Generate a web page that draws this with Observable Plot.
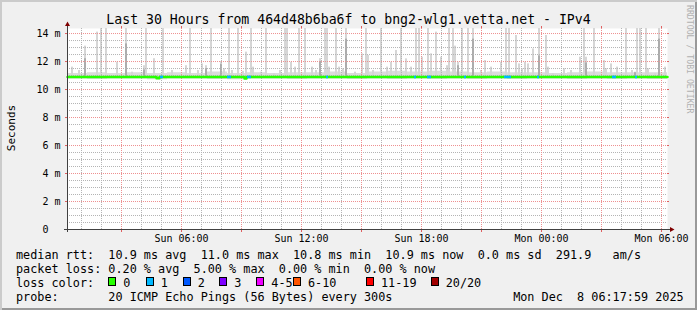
<!DOCTYPE html>
<html>
<head>
<meta charset="utf-8">
<script src="https://cdn.jsdelivr.net/npm/d3@7"></script>
<script src="https://cdn.jsdelivr.net/npm/@observablehq/plot@0.6"></script>
<style>
html, body { margin: 0; padding: 0; background: #f0f0f0; }
#chart { position: relative; width: 697px; height: 310px; background: #f0f0f0;
  box-shadow: inset 2px 2px 0 #cbcbcb, inset -2px -2px 0 #999999; overflow: hidden; }
#chart svg { position: absolute; left: 0; top: 0; }
</style>
</head>
<body>
<div id="chart"></div>
<script>
// ---------------- data ----------------
const title = "Last 30 Hours from 464d48b6ba6f to bng2-wlg1.vetta.net - IPv4";
const yAxisLabel = "Seconds";
const watermark = "RRDTOOL / TOBI OETIKER";
const startTime = "2025-12-07T00:18:00Z";
const endTime = "2025-12-08T06:18:00Z";
const yMax = 14.36;
const yTicks = [0, 2, 4, 6, 8, 10, 12, 14];
const yTickLabels = ["0  ", "2 m", "4 m", "6 m", "8 m", "10 m", "12 m", "14 m"];
const xTickTimes = ["2025-12-07T06:00:00Z", "2025-12-07T12:00:00Z", "2025-12-07T18:00:00Z", "2025-12-08T00:00:00Z", "2025-12-08T06:00:00Z"];
const xTickLabels = ["Sun 06:00", "Sun 12:00", "Sun 18:00", "Mon 00:00", "Mon 06:00"];

// smoke: individual 5-minute steps with outlier pings (hours after start, max ping in ms)
const spikeHour = [0.2, 0.55, 0.85, 1.45, 1.65, 1.9, 2.45, 2.9, 3.2, 3.8, 3.9, 4.3, 4.75, 5.2, 5.9, 6.1, 6.5, 6.7, 6.9, 7.15,
  7.65, 7.8, 8.05, 8.2, 8.5, 8.75, 8.9, 9.15, 9.25, 9.65, 9.9, 10.3, 10.6, 10.85, 10.95, 11.15, 11.35, 11.55, 11.85, 12.2,
  12.4, 12.6, 12.85, 12.95, 13.05, 13.4, 13.55, 13.75, 13.9, 14.35, 14.7, 14.9, 15.0, 15.25, 15.65, 15.95, 16.15, 16.4, 16.65, 16.9,
  17.15, 17.4, 17.55, 17.7, 18.0, 18.15, 18.4, 18.65, 18.95, 19.05, 19.25, 19.35, 19.5, 19.7, 20.0, 20.25, 20.65, 20.85, 21.15, 21.65,
  21.9, 22.05, 22.4, 22.55, 22.7, 22.85, 23.0, 23.25, 23.55, 23.9, 24.0, 24.25, 24.8, 25.15, 25.6, 25.8, 25.9, 26.3, 26.8, 26.9,
  27.15, 27.45, 27.9, 28.2, 28.35, 28.45, 28.6, 28.9, 29.0, 29.35, 29.55, 29.85];
const spikeMax = [11.6, 11.36, 13.1, 14.1, 15, 15, 11.95, 15, 11.24, 11.7, 15, 12.2, 15, 11.36, 11.7, 15, 11.36, 11.83, 11.7, 15,
  12.0, 11.48, 15, 11.36, 15, 11.3, 12.67, 15, 11.6, 11.24, 15, 11.12, 11.36, 15, 15, 11.95, 11.6, 15, 15, 11.6,
  11.36, 12.2, 15, 15, 11.6, 15, 11.6, 11.48, 15, 11.24, 12.55, 15, 12.43, 11.36, 15, 11.6, 11.95, 12.79, 15, 12.19,
  11.6, 15, 15, 12.31, 15, 12.55, 14.1, 12.31, 11.7, 15, 15, 13.1, 11.95, 15, 15, 15, 11.36, 12.07, 11.6, 11.95,
  15, 15, 13.86, 11.83, 11.48, 11.95, 11.83, 12.9, 15, 13.86, 11.6, 11.12, 11.48, 11.36, 12.31, 15, 12.31, 15, 12.07, 11.48,
  11.83, 11.6, 15, 11.36, 11.24, 15, 15, 15, 11.48, 11.12, 15, 11.6];
// darker inner smoke
const darkHour = [0.85, 2.9, 3.8, 6.9, 7.65, 12.6, 13.9, 19.5, 20.25, 23.55, 25.9, 28.35, 29.55];
const darkMax = [12.2, 13.26, 11.4, 11.5, 11.8, 12.0, 13.6, 11.7, 13.6, 12.4, 11.9, 11.2, 13.6];
// background smoke band per hour
const smokeHi = [11.15, 11.2, 11.15, 11.2, 11.15, 11.2, 11.15, 11.25, 11.15, 11.2, 11.15, 11.2, 11.2, 11.25, 11.15,
  11.25, 11.3, 11.25, 11.3, 11.25, 11.2, 11.25, 11.2, 11.2, 11.15, 11.2, 11.25, 11.2, 11.2, 11.2];
const smokeLo = [10.75, 10.72, 10.75, 10.75, 10.7, 10.75, 10.75, 10.72, 10.7, 10.75, 10.75, 10.72, 10.75, 10.75, 10.72,
  10.75, 10.72, 10.75, 10.72, 10.75, 10.72, 10.75, 10.72, 10.75, 10.75, 10.72, 10.75, 10.72, 10.75, 10.72];
// median rtt (ms)
const medianHour = [0, 4.45, 4.6, 8.85, 8.95, 30];
const medianValue = [10.9, 10.8, 10.9, 10.78, 10.9, 10.9];
// packet loss periods
const lossStartHour = [4.65, 8.0, 9.0, 12.95, 17.35, 18.0, 19.85, 21.85, 23.5, 27.25, 28.4];
const lossEndHour = [4.8, 8.2, 9.2, 13.05, 17.45, 18.2, 19.95, 22.2, 23.6, 27.45, 28.5];
const lossPings = [1, 1, 1, 1, 1, 1, 1, 1, 1, 1, 1];
// legend
const lossLabels = ["0", "1", "2", "3", "4-5", "6-10", "11-19", "20/20"];
const lossUpper = [0, 1, 2, 3, 5, 10, 19, 20];
const lossColors = ["#26ff00", "#00b8ff", "#0059ff", "#7e00ff", "#ee00ff", "#ff5500", "#ff0000", "#a10000"];
const statLines = [
  "median rtt:  10.9 ms avg  11.0 ms max  10.8 ms min  10.9 ms now  0.0 ms sd  291.9   am/s",
  "packet loss: 0.20 % avg  5.00 % max  0.00 % min  0.00 % now"
];
const lossColorLabel = "loss color:";
const probeLine = "probe:       20 ICMP Echo Pings (56 Bytes) every 300s                 Mon Dec  8 06:17:59 2025";

// ---------------- build ----------------
const t0 = new Date(startTime), t1 = new Date(endTime);
const atHour = h => new Date(+t0 + h * 3600e3);
const stepH = 6 / 60;
const base = medianValue[0];
const spikes = spikeHour.map((h, i) => ({x1: atHour(h), x2: atHour(h + stepH), top: spikeMax[i]}));
const darks = darkHour.map((h, i) => ({x1: atHour(h), x2: atHour(h + stepH), top: darkMax[i]}));
const smokeRows = smokeHi.map((hi, i) => ({t: atHour(i), hi, lo: smokeLo[i]}));
smokeRows.push({t: t1, hi: smokeHi[smokeHi.length - 1], lo: smokeLo[smokeLo.length - 1]});
const medianRows = medianHour.map((h, i) => ({t: atHour(h), v: medianValue[i]}));
const lossColorOf = n => lossColors[lossUpper.findIndex(u => n <= u)];
const lossRows = lossStartHour.map((h, i) => ({x1: atHour(h), x2: atHour(lossEndHour[i]), n: lossPings[i], v: base}));
const xTicks = xTickTimes.map(s => new Date(s));
const xLabelOf = new Map(xTicks.map((d, i) => [+d, xTickLabels[i]]));
const yLabelOf = new Map(yTicks.map((d, i) => [d, yTickLabels[i]]));

const hoursGrid = d3.utcHour.range(t0, t1);
const majorX = hoursGrid.filter(d => d.getUTCHours() % 3 === 0);
const minorX = hoursGrid.filter(d => d.getUTCHours() % 3 !== 0);
const minorY = d3.range(0.5, yMax, 0.5).filter(v => v % 2 !== 0);

const gridGrey = "#b4b4b4", gridRed = "#ee9090", axisCol = "#404040";
const pxY = 201 / yMax; // px per ms
const pxMin = 600 / (30 * 60); // px per minute

const chart = Plot.plot({
  width: 697, height: 310,
  marginLeft: 67, marginRight: 30, marginTop: 28, marginBottom: 81,
  x: {type: "utc", domain: [t0, t1]},
  y: {domain: [0, yMax]},
  style: {fontFamily: "'DejaVu Sans Mono', monospace", fontSize: "10px", background: "transparent", color: "#000", whiteSpace: "pre", overflow: "visible"},
  marks: [
    Plot.frame({fill: "white", stroke: null}),
    Plot.areaY(smokeRows, {x: "t", y1: "lo", y2: "hi", curve: "step-after", fill: "#dcdcdc"}),
    Plot.rect(spikes, {x1: "x1", x2: "x2", y1: base, y2: "top", fill: "#d6d6d6", clip: true}),
    Plot.rect(darks, {x1: "x1", x2: "x2", y1: base, y2: "top", fill: "#acacac", clip: true}),
    Plot.ruleY(minorY, {stroke: gridGrey, strokeDasharray: "1,1"}),
    Plot.ruleX(minorX, {stroke: gridGrey, strokeDasharray: "1,1"}),
    Plot.ruleY(yTicks.filter(v => v > 0), {stroke: gridRed, strokeDasharray: "1,1"}),
    Plot.ruleX(majorX, {stroke: gridRed, strokeDasharray: "1,1"}),
    // small tick marks outside the canvas
    Plot.ruleX(majorX, {y1: 0, y2: -3 / pxY, stroke: "#e06060"}),
    Plot.ruleX(majorX, {y1: yMax, y2: yMax + 2 / pxY, stroke: "#e06060"}),
    Plot.ruleY(yTicks.filter(v => v > 0), {x1: t1, x2: new Date(+t1 + 2 / pxMin * 60e3), stroke: "#e06060"}),
    Plot.line(medianRows, {x: "t", y: "v", stroke: lossColors[0], strokeWidth: 2.5, curve: "step-after"}),
    Plot.ruleY(lossRows, {x1: "x1", x2: "x2", y: "v", stroke: d => lossColorOf(d.n), strokeWidth: 2.5}),
    Plot.axisY({ticks: yTicks, tickFormat: d => yLabelOf.get(d), tickSize: 2, tickPadding: 5, stroke: "#e06060", fill: "#000", fontSize: 10, label: null}),
    Plot.axisX({ticks: xTicks, tickFormat: d => xLabelOf.get(+d), tickSize: 0, tickPadding: 5, fill: "#000", fontSize: 10, label: null}),
    Plot.ruleX([t0], {y1: -3 / pxY, y2: yMax + 2 / pxY, stroke: axisCol}),
    Plot.ruleY([0], {x1: new Date(+t0 - 3 / pxMin * 60e3), x2: new Date(+t1 + 3 / pxMin * 60e3), stroke: axisCol})
  ]
});

const svg = d3.select(chart);
const sx = chart.scale("x"), sy = chart.scale("y");
const ax = sx.apply(t0) + 0.5, ayTop = sy.apply(yMax) - 2;
const axR = sx.apply(t1) + 3, ay0 = sy.apply(0) + 0.5;
svg.append("path").attr("d", `M${ax - 2.5},${ayTop} L${ax + 2.5},${ayTop} L${ax},${ayTop - 4.5} Z`).attr("fill", "#7f0000");
svg.append("path").attr("d", `M${axR},${ay0 - 2.5} L${axR},${ay0 + 2.5} L${axR + 4.5},${ay0} Z`).attr("fill", "#7f0000");

const addText = (x, y, s, size, anchor = "start", fill = "#000") =>
  svg.append("text").attr("x", x).attr("y", y).attr("text-anchor", anchor)
    .style("font-size", size).attr("fill", fill).text(s);

addText(348.5, 24, title, "13.2px", "middle");
svg.append("text").attr("transform", "translate(15,128) rotate(-90)").attr("text-anchor", "middle")
  .style("font-size", "11px").attr("fill", "#000").text(yAxisLabel);
svg.append("text").attr("transform", "translate(686.5,5) rotate(90)").attr("text-anchor", "start")
  .style("font-size", "8.2px").attr("fill", "#b0b0b0").text(watermark);

const legendFont = "11.8px";
const baselines = [258.5, 272.5, 286.5, 300.5];
statLines.forEach((s, i) => addText(16, baselines[i], s, legendFont));
addText(16, baselines[2], lossColorLabel, legendFont);
const boxX = [108.3, 145.7, 182.7, 219.3, 256.3, 293, 366, 430.7];
lossLabels.forEach((lab, i) => {
  svg.append("rect").attr("x", Math.round(boxX[i]) + 0.5).attr("y", 277.5).attr("width", 7).attr("height", 8)
    .attr("fill", lossColors[i]).attr("stroke", "#000").attr("stroke-width", 1);
  addText(boxX[i] + 15, baselines[2], lab, legendFont);
});
addText(16, baselines[3], probeLine, legendFont);

document.getElementById("chart").appendChild(chart);
</script>
</body>
</html>
